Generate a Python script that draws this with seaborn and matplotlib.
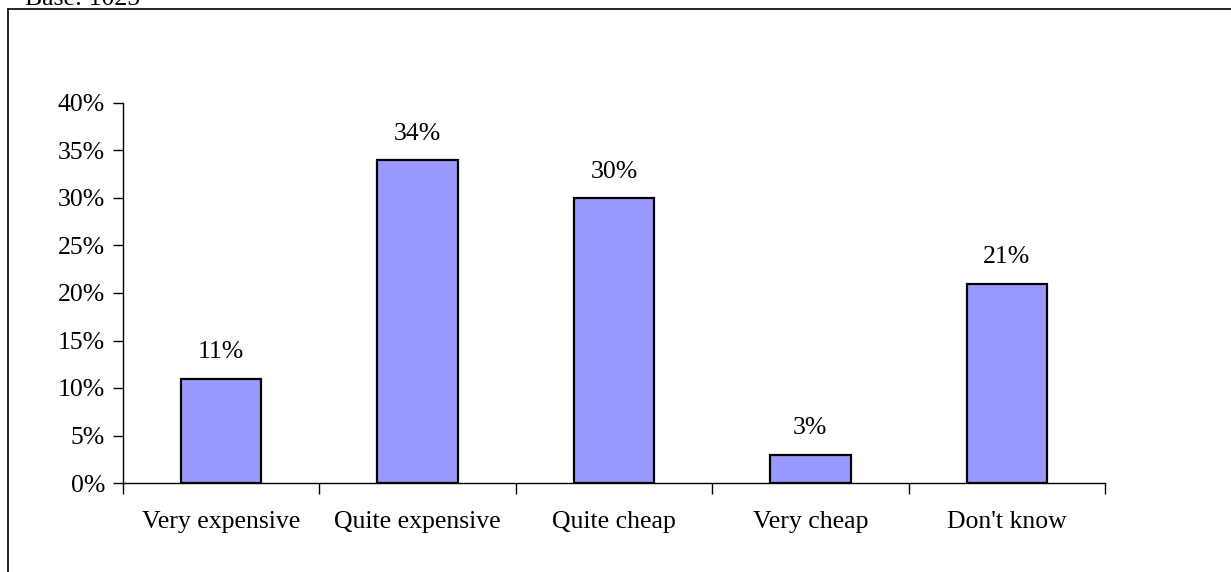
import matplotlib
matplotlib.use("Agg")
import matplotlib.pyplot as plt
import seaborn as sns
import pandas as pd
from matplotlib.lines import Line2D
from matplotlib.ticker import FuncFormatter, MultipleLocator

categories = ["Very expensive", "Quite expensive", "Quite cheap", "Very cheap", "Don't know"]
values = [11, 34, 30, 3, 21]
base_text = "Base: 1025"

sns.set_theme(style="white")
plt.rcParams['font.family'] = ['Liberation Serif', 'DejaVu Serif']
plt.rcParams['text.color'] = 'black'
plt.rcParams['xtick.color'] = 'black'
plt.rcParams['ytick.color'] = 'black'

FS = 18.5
W, H = 1231, 572
fig = plt.figure(figsize=(W / 100, H / 100), dpi=100)
ax = fig.add_axes([123 / W, 1 - 483 / H, (1105 - 123) / W, (483 - 103) / H])

df = pd.DataFrame({"cat": categories, "val": values})
sns.barplot(data=df, x="cat", y="val", ax=ax, color="#9999FF", saturation=1,
            width=0.41, edgecolor="black", linewidth=1.6)

ax.set_ylim(0, 40)
ax.set_xlim(-0.5, len(categories) - 0.5)
ax.yaxis.set_major_locator(MultipleLocator(5))
ax.yaxis.set_major_formatter(FuncFormatter(lambda v, p: f"{int(v)}%"))
ax.set_xlabel("")
ax.set_ylabel("")
for s in ["top", "right"]:
    ax.spines[s].set_visible(False)
for s in ["left", "bottom"]:
    ax.spines[s].set_color("black")
    ax.spines[s].set_linewidth(1.0)

ax.set_xticks([i - 0.5 for i in range(len(categories) + 1)], minor=False)
ax.set_xticklabels([])
ax.set_xticks(range(len(categories)), minor=True)
ax.set_xticklabels(categories, minor=True, fontsize=FS, color="black")
ax.tick_params(axis="x", which="major", direction="out", length=8, width=1, color="black", bottom=True)
ax.tick_params(axis="x", which="minor", length=0, pad=20, bottom=True, labelcolor="black")
ax.tick_params(axis="y", direction="out", length=7, width=1, color="black", labelsize=FS,
               pad=6, left=True, labelcolor="black")

for i, v in enumerate(values):
    ax.text(i, v + 1.6, f"{v}%", ha="center", va="bottom", fontsize=FS, color="black")

# outer frame
fig.add_artist(Line2D([8 / W, 1.0], [1 - 9 / H, 1 - 9 / H], transform=fig.transFigure, color="black", lw=1.2))
fig.add_artist(Line2D([8 / W, 8 / W], [0, 1 - 9 / H], transform=fig.transFigure, color="black", lw=1.2))
fig.text(25 / W, 1 - 5 / H, base_text, ha="left", va="baseline", fontsize=FS, color="black")

fig.savefig("out.png", dpi=100)
